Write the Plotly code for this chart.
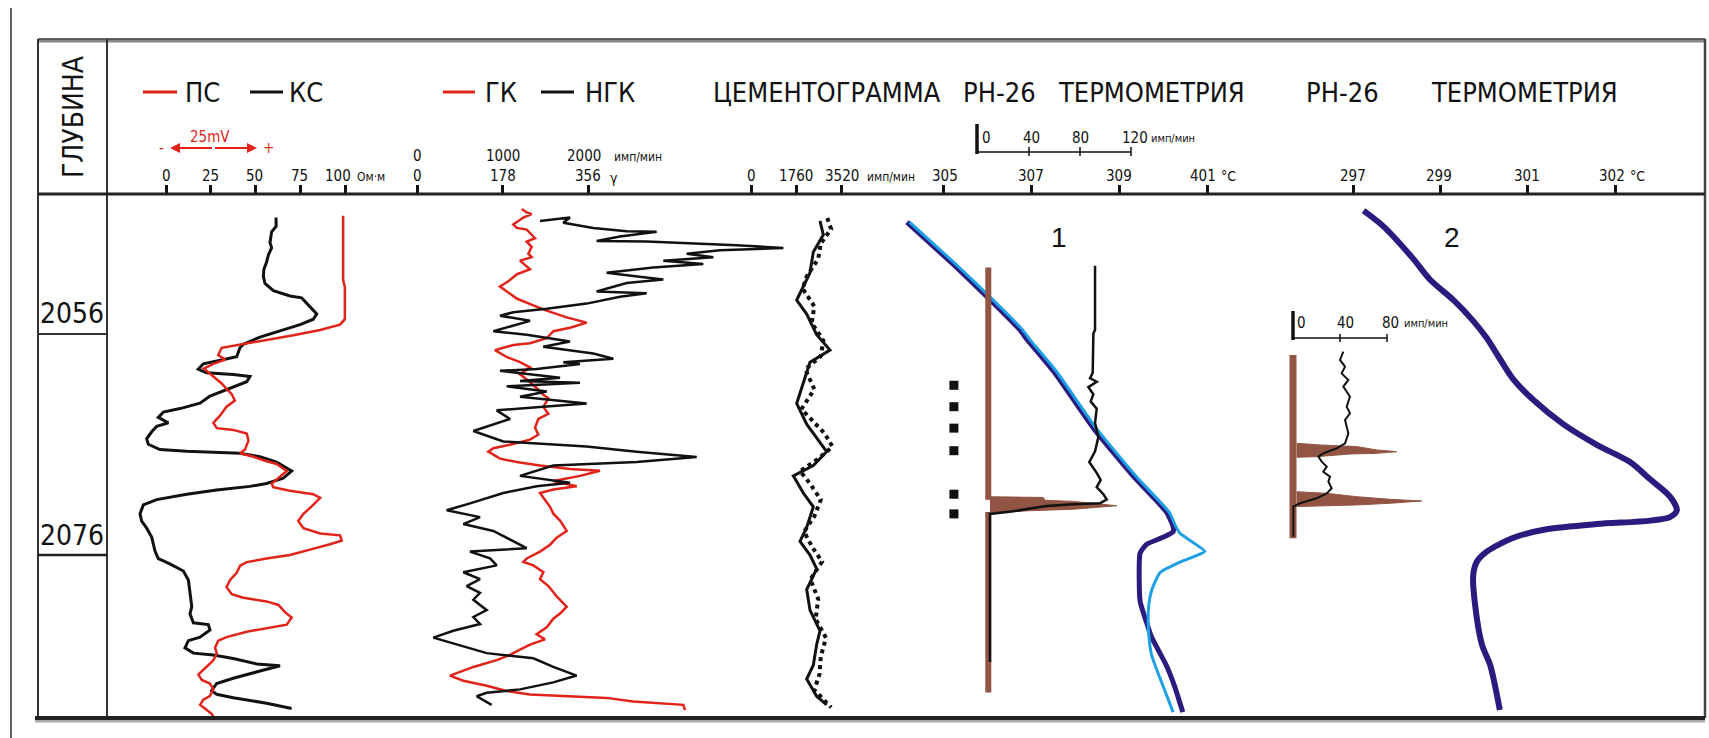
import plotly.graph_objects as go

# ---------------- data (depth in m, values in track units) ----------------
kc_depth = [2045.45, 2046.26, 2046.75, 2047.72, 2048.20, 2048.85, 2049.49, 2050.14, 2050.79, 2051.43,
            2052.08, 2052.56, 2052.73, 2053.53, 2054.18, 2054.66, 2055.15, 2055.63, 2056.28, 2056.93,
            2057.25, 2058.06, 2058.38, 2058.70, 2059.19, 2059.51, 2059.67, 2059.84, 2060.32, 2060.81,
            2061.13, 2061.61, 2062.26, 2062.75, 2063.07, 2063.55, 2064.04, 2064.36, 2064.85, 2065.49,
            2065.98, 2066.46, 2066.62, 2066.69, 2066.79, 2067.11, 2067.59, 2068.40, 2069.05, 2069.53,
            2069.79, 2070.11, 2070.50, 2070.99, 2071.47, 2072.28, 2072.93, 2073.57, 2074.38, 2075.67,
            2076.32, 2076.80, 2077.45, 2078.26, 2079.55, 2080.68, 2081.33, 2082.14, 2082.30, 2082.78,
            2083.43, 2083.75, 2084.40, 2084.88, 2085.05, 2085.37, 2085.86, 2086.02, 2086.50, 2087.15,
            2087.63, 2088.28, 2088.60, 2088.92, 2089.41, 2089.89]
kc_ohmm = [61.5, 61.5, 59.0, 58.1, 59.0, 57.2, 56.2, 54.7, 54.4, 55.3,
           60.0, 69.3, 75.8, 80.4, 84.2, 82.3, 74.9, 65.5, 52.5, 43.2,
           41.3, 39.5, 30.2, 20.9, 18.0, 22.7, 37.6, 46.9, 45.1, 37.6,
           32.0, 24.6, 19.0, 7.8, -1.5, -4.3, 1.3, -5.2, -8.0, -10.8,
           -9.9, -3.4, 11.6, 28.3, 41.3, 52.5, 61.8, 70.2, 65.5, 56.2,
           46.9, 28.3, 11.6, -5.2, -12.7, -14.5, -13.6, -10.8, -8.0, -6.1,
           -4.3, 2.2, 9.7, 12.5, 13.4, 14.4, 13.4, 15.3, 23.6, 24.6,
           19.0, 12.5, 10.6, 15.3, 26.4, 37.6, 50.7, 63.7, 52.5, 37.6,
           28.3, 25.5, 28.3, 37.6, 56.2, 70.2]

ps_depth = [2045.29, 2051.11, 2051.76, 2054.66, 2055.15, 2055.63, 2056.12, 2056.60, 2056.99, 2057.25,
            2057.90, 2058.32, 2058.70, 2059.13, 2059.84, 2060.48, 2060.97, 2061.45, 2062.03, 2062.58,
            2063.39, 2064.04, 2064.52, 2064.68, 2065.01, 2065.65, 2066.46, 2066.79, 2067.11, 2067.43,
            2067.76, 2068.40, 2068.89, 2069.53, 2069.86, 2070.18, 2070.50, 2070.83, 2071.47, 2072.28,
            2072.93, 2073.57, 2074.06, 2074.22, 2074.70, 2075.03, 2075.51, 2076.00, 2076.32, 2076.64,
            2076.97, 2077.61, 2078.26, 2078.91, 2079.55, 2079.87, 2080.20, 2080.52, 2081.17, 2081.65,
            2082.30, 2082.62, 2082.94, 2083.43, 2083.75, 2084.40, 2084.88, 2085.53, 2086.34, 2086.82,
            2087.31, 2087.63, 2088.12, 2088.76, 2089.09, 2089.57, 2089.89, 2090.38, 2090.86]
ps_mv = [50.9, 50.9, 51.4, 51.4, 50.0, 44.3, 36.6, 28.0, 21.3, 16.0,
         15.0, 17.0, 13.6, 10.9, 13.6, 16.0, 17.4, 18.9, 19.8, 17.4,
         15.5, 13.6, 14.6, 19.3, 23.2, 23.7, 22.7, 21.3, 25.1, 28.0,
         31.8, 34.7, 32.8, 30.4, 30.8, 35.6, 42.3, 44.3, 42.3, 39.5,
         38.0, 39.5, 44.3, 50.0, 50.5, 47.1, 41.4, 35.6, 28.9, 23.2,
         21.3, 20.3, 18.4, 17.4, 18.9, 22.2, 28.9, 32.3, 34.2, 36.1,
         34.7, 28.9, 23.2, 17.4, 15.0, 14.1, 14.6, 13.6, 10.7, 9.3,
         10.3, 12.6, 13.6, 12.6, 10.7, 9.8, 11.2, 13.1, 14.1]

gk_depth = [2044.68, 2045.00, 2045.15, 2045.46, 2046.09, 2046.40, 2046.55, 2046.87, 2047.33, 2047.64,
            2048.11, 2048.73, 2049.05, 2049.36, 2049.83, 2050.14, 2050.61, 2051.23, 2051.70, 2052.16,
            2052.79, 2053.41, 2053.88, 2054.50, 2054.97, 2055.44, 2055.75, 2056.37, 2056.84, 2056.99,
            2057.46, 2058.08, 2058.55, 2059.02, 2059.64, 2060.11, 2060.89, 2061.51, 2061.82, 2062.60,
            2063.23, 2063.69, 2064.47, 2065.10, 2065.56, 2066.03, 2066.34, 2066.65, 2067.28, 2067.59,
            2067.90, 2068.21, 2068.37, 2068.84, 2069.30, 2069.77, 2070.08, 2070.39, 2071.02, 2071.64,
            2072.26, 2072.89, 2073.82, 2074.44, 2075.07, 2075.69, 2076.31, 2076.63, 2076.94, 2077.56,
            2078.19, 2078.81, 2079.74, 2080.68, 2081.30, 2081.77, 2082.55, 2083.17, 2083.64, 2084.11,
            2084.57, 2085.04, 2085.51, 2086.13, 2086.91, 2087.38, 2087.84, 2088.31, 2088.62, 2088.78,
            2088.93, 2089.25, 2089.40, 2089.56, 2090.03]
gk_val = [216.7, 227.1, 237.4, 220.1, 199.4, 206.4, 227.1, 234.0, 244.3, 227.1,
          237.4, 230.5, 237.4, 213.3, 227.1, 234.0, 206.4, 189.1, 171.8, 185.6,
          206.4, 240.9, 268.5, 309.9, 351.3, 316.8, 282.3, 268.5, 234.0, 199.4,
          161.5, 185.6, 213.3, 234.0, 213.3, 227.1, 247.7, 261.6, 272.0, 261.6,
          272.0, 251.2, 244.3, 251.2, 234.0, 192.5, 158.0, 147.7, 171.8, 206.4,
          254.7, 316.8, 378.9, 337.5, 282.3, 330.6, 282.3, 254.7, 265.0, 275.4,
          282.3, 296.1, 309.9, 289.2, 275.4, 254.7, 227.1, 220.1, 240.9, 261.6,
          254.7, 272.0, 289.2, 309.9, 296.1, 282.3, 268.5, 247.7, 265.0, 234.0,
          213.3, 192.5, 165.0, 116.8, 68.3, 95.9, 144.3, 185.6, 234.0, 316.8,
          392.7, 447.8, 503.1, 551.4, 554.9]

ngk_depth = [2045.77, 2045.46, 2045.93, 2046.40, 2046.71, 2046.75, 2047.18, 2047.58, 2047.64, 2047.80,
             2047.96, 2048.21, 2048.42, 2048.73, 2049.05, 2049.36, 2049.67, 2049.98, 2050.45, 2050.76,
             2051.07, 2051.38, 2052.16, 2052.32, 2052.63, 2053.25, 2053.72, 2054.03, 2054.34, 2054.81,
             2055.75, 2056.06, 2056.68, 2057.15, 2057.77, 2058.24, 2058.55, 2058.71, 2059.17, 2059.33,
             2059.95, 2060.26, 2060.42, 2060.73, 2061.20, 2061.67, 2062.29, 2062.60, 2062.91, 2063.69,
             2064.78, 2065.72, 2066.19, 2066.65, 2067.12, 2067.59, 2067.90, 2068.84, 2069.46, 2069.77,
             2070.39, 2071.33, 2071.95, 2072.57, 2073.20, 2073.82, 2074.76, 2075.38, 2075.69, 2076.31,
             2076.94, 2077.56, 2078.19, 2078.81, 2079.43, 2080.05, 2080.99, 2081.61, 2082.24, 2082.86,
             2083.48, 2084.10, 2084.88, 2085.35, 2086.13, 2086.91, 2087.53, 2088.16, 2088.47, 2088.78,
             2089.56]
ngk_val = [1439, 1789, 1711, 2062, 2452, 2803, 2374, 2101, 2686, 3271,
           3739, 4285, 3544, 3154, 3466, 2881, 3349, 2764, 2218, 2530,
           2881, 2452, 2101, 2686, 2374, 1984, 1517, 1127, 971, 1322,
           893, 1283, 1789, 1477, 2062, 2296, 1711, 1906, 1400, 971,
           1673, 1205, 1906, 1049, 1517, 1205, 1984, 1439, 932, 1088,
           659, 1010, 1984, 2569, 3271, 2569, 1594, 1205, 1789, 1400,
           1010, 620, 347, 737, 542, 893, 1127, 1283, 620, 854,
           932, 542, 737, 581, 737, 659, 815, 659, 737, 425,
           191, 464, 815, 1361, 1594, 1867, 1594, 1205, 815, 698,
           873]

cem_a_depth = [2045.77, 2047.02, 2048.58, 2050.45, 2052.94, 2054.19, 2056.06, 2057.46, 2058.55, 2060.42,
               2062.29, 2064.16, 2065.41, 2066.65, 2067.90, 2068.84, 2070.39, 2071.64, 2073.51, 2074.76,
               2076.00, 2077.25, 2079.12, 2080.99, 2082.86, 2084.10, 2085.97, 2087.22, 2088.78, 2089.56]
cem_a = [2669, 2798, 2411, 2282, 1767, 2154, 2540, 3056, 2282, 2024,
         1767, 2154, 2540, 2927, 2411, 1637, 2024, 2411, 2154, 1896,
         2282, 2540, 2154, 2282, 2669, 2540, 2411, 2154, 2540, 2927]
cem_b_depth = [2045.5, 2046.5, 2047.8, 2049.2, 2050.8, 2051.9, 2053.5, 2055.0, 2056.6, 2058.0,
               2059.2, 2061.0, 2062.8, 2063.8, 2065.0, 2066.2, 2067.3, 2068.4, 2069.6, 2071.0,
               2072.5, 2073.9, 2075.4, 2076.6, 2078.2, 2080.0, 2081.8, 2083.5, 2085.2, 2086.8,
               2088.2, 2089.8]
cem_b = [2950, 3100, 2700, 2600, 2150, 2000, 2450, 2350, 2800, 2700,
         2100, 2450, 1950, 2350, 2850, 3150, 2600, 1900, 2300, 2700,
         2450, 2050, 2400, 2750, 2300, 2600, 2500, 2900, 2700, 2650,
         2450, 3100]

t1_dark_depth = [2045.87, 2049.98, 2052.89, 2055.63, 2056.44, 2059.35, 2064.52, 2068.89, 2072.12, 2073.41,
                 2073.90, 2074.38, 2075.03, 2075.83, 2080.20, 2082.14, 2083.43, 2086.02, 2087.95, 2090.22]
t1_dark = [304.18, 305.31, 306.07, 306.75, 306.90, 307.51, 308.42, 309.33, 310.08, 310.23,
           310.23, 310.01, 309.63, 309.48, 309.48, 309.63, 309.74, 310.08, 310.27, 310.45]
t1_light_depth = [2045.87, 2049.98, 2052.89, 2055.63, 2056.44, 2059.35, 2064.52, 2068.89, 2072.12, 2073.41,
                  2074.06, 2075.67, 2076.16, 2076.64, 2077.61, 2079.23, 2080.84, 2082.78, 2085.05, 2087.95,
                  2090.22]
t1_light = [304.24, 305.37, 306.13, 306.81, 306.96, 307.57, 308.48, 309.39, 310.14, 310.29,
            310.39, 310.95, 310.69, 310.39, 309.93, 309.74, 309.67, 309.67, 309.74, 310.01,
            310.23]

t2_depth = [2044.84, 2046.24, 2049.20, 2051.07, 2052.94, 2054.81, 2056.37, 2058.24, 2060.11, 2061.98,
            2064.16, 2066.03, 2067.59, 2069.15, 2070.70, 2071.95, 2072.57, 2072.89, 2073.20, 2073.67,
            2074.44, 2075.69, 2076.63, 2077.87, 2080.37, 2084.10, 2085.97, 2090.03]
t2 = [297.24, 297.69, 298.38, 298.76, 299.30, 299.75, 300.06, 300.36, 300.67, 301.13,
      301.81, 302.58, 303.34, 303.80, 304.25, 304.41, 304.25, 303.80, 302.58, 301.43,
      300.67, 300.06, 299.83, 299.75, 299.79, 299.95, 300.14, 300.36]

rn1_depth = [2049.82, 2055.63, 2055.96, 2059.51, 2060.00, 2060.32, 2060.81, 2061.45, 2062.10, 2062.75,
             2064.04, 2065.33, 2066.62, 2067.59, 2068.56, 2069.21, 2069.86, 2070.50, 2070.99, 2071.31,
             2071.41, 2071.57, 2071.79, 2072.05, 2072.28, 2085.69]
rn1 = [92.0, 92.0, 90.7, 90.2, 88.1, 93.3, 86.8, 90.7, 88.6, 93.3,
       92.0, 94.6, 92.0, 87.5, 93.3, 96.4, 93.3, 98.5, 101.1, 95.9,
       75.1, 54.3, 41.3, 28.3, 10.1, 10.1]
rn1_base_depth = [2049.98, 2071.0, None, 2072.1, 2088.44]
rn1_base = [8.8, 8.8, None, 8.8, 8.8]
rn1_spike_depth = [2070.73, 2070.79, 2071.05, 2071.15, 2071.54, 2071.86, 2071.99, 2072.18]
rn1_spike = [10.1, 51.7, 53.0, 75.1, 108.9, 75.1, 41.3, 10.1]
perf_depth = [2060.64, 2062.58, 2064.52, 2066.56, 2070.50, 2072.28]
perf_pos = [-18, -18, -18, -18, -18, -18]

rn2_depth = [2057.60, 2058.35, 2058.95, 2059.56, 2060.16, 2060.76, 2061.67, 2062.57, 2063.18, 2063.78,
             2064.99, 2065.89, 2066.34, 2066.80, 2067.10, 2067.55, 2068.00, 2068.46, 2068.91, 2069.36,
             2069.96, 2070.42, 2070.87, 2071.32, 2071.62, 2074.34]
rn2 = [42.8, 40.0, 44.3, 41.4, 47.1, 42.8, 48.5, 45.7, 48.5, 44.3,
       47.1, 44.3, 37.2, 25.8, 21.6, 24.4, 28.7, 25.8, 31.5, 30.1,
       32.9, 28.7, 20.1, 6.0, 0.3, 0.3]
rn2_base_depth = [2057.90, 2074.49]
rn2_base = [0.0, 0.0]
rn2_spike1_depth = [2065.89, 2066.04, 2066.19, 2066.49, 2066.65, 2066.80, 2066.86, 2067.10, 2067.16]
rn2_spike1 = [3.1, 23.0, 54.2, 71.2, 88.3, 71.2, 48.5, 20.1, 3.1]
rn2_spike2_depth = [2070.27, 2070.42, 2070.72, 2070.96, 2071.11, 2071.32, 2071.47, 2071.56, 2071.62]
rn2_spike2 = [3.1, 28.7, 54.2, 82.6, 109.5, 82.6, 54.2, 20.1, 3.1]

depth_marks = ["2056", "2076"]

# ---------------- layout helpers ----------------
W, H = 1709, 738
X0, X1 = 107, 1705
Y0, Y1 = 194, 718
D_TOP = 2056 + (Y0 - 334) / 11.05
D_BOT = 2076 + (Y1 - 555) / 11.05

RED = "#E2231A"
BLK = "#111111"
NAVY = "#2B1B7E"
LBLUE = "#1EA0E6"
BROWN = "#925544"
FN = "Liberation Sans Narrow, DejaVu Sans Condensed, Arial Narrow, sans-serif"
FR = "Liberation Sans, Arial, sans-serif"


def px(x):
    return x / W


def py(y):
    return 1 - y / H


# axis calibration: value v0 at pixel p0, s pixels per unit
cal = {
    "x": (0, 166, 1.79),
    "x2": (0, 166, 3.48),
    "x3": (0, 417, 0.483),
    "x4": (0, 417, 0.0855),
    "x5": (0, 751, 0.02585),
    "x6": (305, 943, 44.0),
    "x7": (0, 977, 1.283),
    "x8": (297, 1353, 43.7),
    "x9": (0, 1293, 1.175),
}
ticks = {
    "x": [0, 25, 50, 75, 100],
    "x3": [0, 178, 356],
    "x5": [0, 1760, 3520],
    "x6": [305, 307, 309, 311],
    "x8": [297, 299, 301, 303],
}


def rng(k):
    v0, p0, s = cal[k]
    return [v0 + (X0 - p0) / s, v0 + (X1 - p0) / s]


fig = go.Figure()


def add(x, y, ax, **kw):
    fig.add_trace(go.Scatter(x=x, y=y, xaxis=ax, yaxis="y", hoverinfo="skip", **kw))


# track 1
add(ps_mv, ps_depth, "x2", mode="lines", line=dict(color=RED, width=2.5))
add(kc_ohmm, kc_depth, "x", mode="lines", line=dict(color=BLK, width=3))
# track 2
add(gk_val, gk_depth, "x3", mode="lines", line=dict(color=RED, width=2.5))
add(ngk_val, ngk_depth, "x4", mode="lines", line=dict(color=BLK, width=2.5))
# cementogram
add(cem_b, cem_b_depth, "x5", mode="lines", line=dict(color=BLK, width=4, dash="dot"))
add(cem_a, cem_a_depth, "x5", mode="lines", line=dict(color=BLK, width=3))
# RN-26 track 1
add(rn1_base, rn1_base_depth, "x7", mode="lines", line=dict(color=BROWN, width=6))
add(rn1_spike, rn1_spike_depth, "x7", mode="lines", fill="toself", fillcolor=BROWN,
    line=dict(color=BROWN, width=1))
add(rn1, rn1_depth, "x7", mode="lines", line=dict(color=BLK, width=2.5))
add(perf_pos, perf_depth, "x7", mode="markers",
    marker=dict(symbol="square", size=9, color=BLK))
# thermometry 1
add(t1_dark, t1_dark_depth, "x6", mode="lines", line=dict(color=NAVY, width=5, shape="spline", smoothing=0.5))
add(t1_light, t1_light_depth, "x6", mode="lines", line=dict(color=LBLUE, width=3, shape="spline", smoothing=0.5))
# RN-26 track 2
add(rn2_base, rn2_base_depth, "x9", mode="lines", line=dict(color=BROWN, width=7))
add(rn2_spike1, rn2_spike1_depth, "x9", mode="lines", fill="toself", fillcolor=BROWN,
    line=dict(color=BROWN, width=1))
add(rn2_spike2, rn2_spike2_depth, "x9", mode="lines", fill="toself", fillcolor=BROWN,
    line=dict(color=BROWN, width=1))
add(rn2, rn2_depth, "x9", mode="lines", line=dict(color=BLK, width=2))
# thermometry 2
add(t2, t2_depth, "x8", mode="lines", line=dict(color=NAVY, width=6, shape="spline", smoothing=0.8))

layout = dict(
    width=W, height=H, autosize=False,
    margin=dict(l=0, r=0, t=0, b=0),
    paper_bgcolor="white", plot_bgcolor="rgba(0,0,0,0)",
    showlegend=False,
    yaxis=dict(domain=[py(Y1), py(Y0)], range=[D_BOT, D_TOP], visible=False, fixedrange=True),
)
for k in cal:
    name = "xaxis" if k == "x" else "xaxis" + k[1:]
    ax = dict(range=rng(k), showgrid=False, zeroline=False, showline=False,
              showticklabels=False, fixedrange=True, anchor="y", side="top")
    if k == "x":
        ax["domain"] = [px(X0), px(X1)]
    else:
        ax["overlaying"] = "x"
    if k in ticks:
        ax.update(ticks="outside", tickvals=ticks[k], ticklen=8, tickwidth=2.5, tickcolor=BLK)
    else:
        ax["ticks"] = ""
    layout[name] = ax
fig.update_layout(**layout)

# ---------------- frame ----------------
shapes = []


def line(x0, y0, x1, y1, w=2, c="#222"):
    shapes.append(dict(type="line", xref="paper", yref="paper",
                       x0=px(x0), y0=py(y0), x1=px(x1), y1=py(y1),
                       line=dict(color=c, width=w)))


line(11, 8, 11, 738, 1.5, "#333")
line(38, 41, 1705, 41, 3, "#8a8a8a")
line(38, 39, 1705, 39, 1.5, "#333")
line(38, 39, 38, 718, 2, "#333")
line(1705, 39, 1705, 718, 2.5, "#444")
line(107, 39, 107, 718, 2, "#333")
line(38, 194, 1705, 194, 3, "#222")
line(38, 334, 107, 334, 2, "#333")
line(38, 555, 107, 555, 2.5, "#222")
line(35, 721, 1705, 721, 3, "#aaaaaa")
line(35, 718, 1705, 718, 4, "#222")

# legend lines
line(143, 92, 177, 92, 3, RED)
line(250, 92, 283, 92, 3, BLK)
line(443, 92, 475, 92, 3, RED)
line(541, 92, 574, 92, 3, BLK)

# RN-26 scale (header)
line(977, 124, 977, 154, 3.5, BLK)
line(977, 152, 1131, 152, 1.5, BLK)
for xx in (1029, 1080, 1131):
    line(xx, 147, xx, 156, 1.5, BLK)
# RN-26 scale (track 2)
line(1293, 311, 1293, 340, 3.5, BLK)
line(1293, 338, 1387, 338, 1.5, BLK)
for xx in (1340, 1387):
    line(xx, 334, xx, 342, 1.5, BLK)

fig.update_layout(shapes=shapes)

# ---------------- texts ----------------
ann = []


def txt(s, x, y, size, anchor="center", color=BLK, font=FN, angle=0):
    ann.append(dict(text=s, x=px(x), y=py(y), xref="paper", yref="paper",
                    xanchor=anchor, yanchor="middle", showarrow=False, textangle=angle,
                    font=dict(family=font, size=size, color=color)))


txt("ГЛУБИНА", 73, 117, 28, angle=-90)
txt(depth_marks[0], 72, 313, 28)
txt(depth_marks[1], 72, 535, 28)

big = [("ПС", 183), ("КС", 287), ("ГК", 483), ("НГК", 583), ("ЦЕМЕНТОГРАММА", 711),
       ("РН-26", 961), ("ТЕРМОМЕТРИЯ", 1056), ("РН-26", 1304), ("ТЕРМОМЕТРИЯ", 1429)]
for s, x in big:
    txt(s, x, 93, 27, anchor="left")

low = [("0", 166), ("25", 210), ("50", 255), ("75", 299), ("100", 338),
       ("0", 417), ("178", 503), ("356", 588),
       ("0", 751), ("1760", 796), ("3520", 842),
       ("305", 945), ("307", 1031), ("309", 1119), ("401", 1203),
       ("297", 1353), ("299", 1439), ("301", 1527), ("302", 1612)]
for s, x in low:
    txt(s, x, 176, 15)
txt("Ом·м", 355, 177, 12, anchor="left")
txt("γ", 608, 178, 14, anchor="left")
txt("имп/мин", 865, 177, 12, anchor="left")
txt("°С", 1219, 176, 14, anchor="left")
txt("°С", 1628, 176, 14, anchor="left")

for s, x in [("0", 417), ("1000", 503), ("2000", 584)]:
    txt(s, x, 156, 15)
txt("имп/мин", 612, 157, 12, anchor="left")

for s, x in [("0", 986), ("40", 1031), ("80", 1080), ("120", 1135)]:
    txt(s, x, 138, 15)
txt("имп/мин", 1149, 139, 11, anchor="left")
for s, x in [("0", 1301), ("40", 1345), ("80", 1390)]:
    txt(s, x, 323, 15)
txt("имп/мин", 1402, 324, 11, anchor="left")

txt("25mV", 210, 137, 15, color=RED)
txt("-", 161, 148, 15, color=RED)
txt("+", 268, 148, 15, color=RED)
for xa, xb in ((170, 257), (257, 170)):
    ann.append(dict(x=px(xa), y=py(148), xref="paper", yref="paper", text="",
                    showarrow=True, arrowhead=2, arrowsize=1, arrowwidth=2, arrowcolor=RED,
                    ax=(xb - xa) / 2, ay=0))

txt("1", 1059, 237, 28, font=FR)
txt("2", 1452, 238, 28, font=FR)

fig.update_layout(annotations=ann)
fig.write_html("out.html")
